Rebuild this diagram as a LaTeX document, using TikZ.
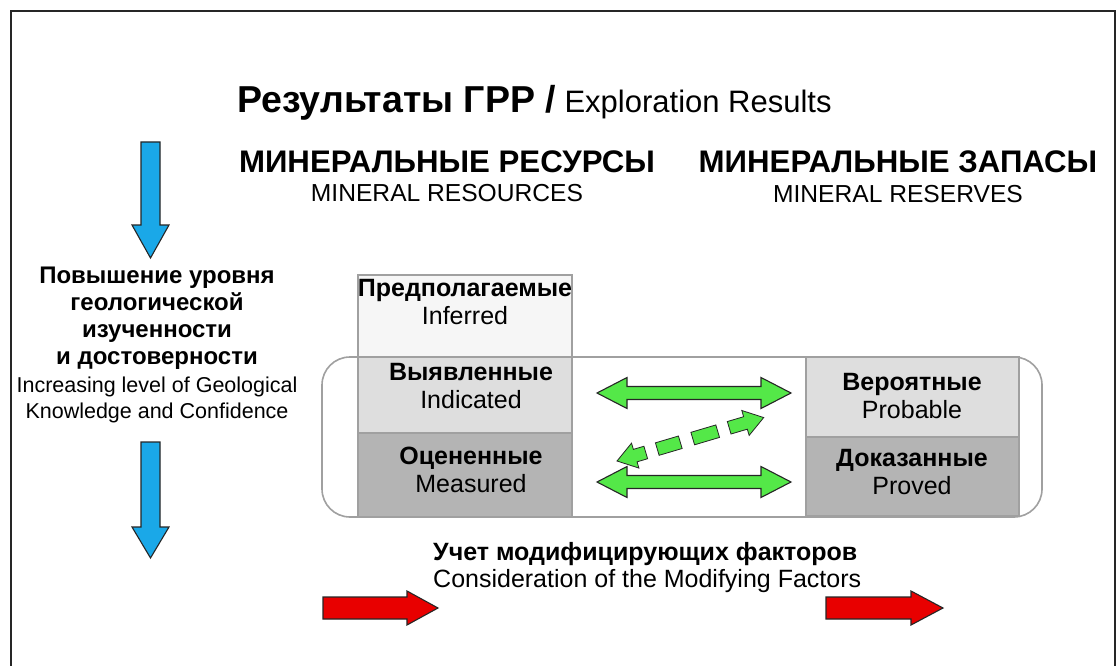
\documentclass[tikz,border=0pt]{standalone}
\usepackage{fontspec}
\setmainfont{Liberation Sans}
\definecolor{arrowblue}{RGB}{26,168,232}
\definecolor{arrowgreen}{RGB}{84,232,72}
\definecolor{arrowred}{RGB}{232,0,0}
\definecolor{boxline}{RGB}{160,160,160}
\definecolor{fillinf}{RGB}{246,246,246}
\definecolor{fillind}{RGB}{222,222,222}
\definecolor{fillmea}{RGB}{180,180,180}
\begin{document}
\begin{tikzpicture}[x=1pt,y=1pt,
  blockarrow/.style={draw=black!85, line width=1.1pt, line join=miter},
  catbox/.style={draw=boxline, line width=1.6pt, inner sep=0pt, outer sep=0pt},
  boxlabel/.style={align=center, inner sep=0pt, font=\fontsize{25}{27.5}\selectfont},
  headbig/.style={inner sep=0pt, font=\bfseries\fontsize{31.2}{34}\selectfont},
  headsmall/.style={inner sep=0pt, font=\fontsize{24.6}{28}\selectfont}
]
\useasboundingbox (0,0) rectangle (1119,-666);
\fill[white] (0,0) rectangle (1119,-666);
% outer frame
\draw[line width=2.2pt, black!85] (11,-680) -- (11,-11) -- (1115,-11) -- (1115,-680);

% title
\node[anchor=base west, inner sep=0pt] (title) at (237,-113)
  {{\bfseries\fontsize{37.5}{40}\selectfont Результаты ГРР /}{\fontsize{31}{32}\selectfont\ Exploration Results}};

% headings
\node[headbig] (res) at (447,-162) {МИНЕРАЛЬНЫЕ РЕСУРСЫ};
\node[headsmall] (resen) at (447,-193) {MINERAL RESOURCES};
\node[headbig] (zap) at (898,-162) {МИНЕРАЛЬНЫЕ ЗАПАСЫ};
\node[headsmall] (zapen) at (898,-194) {MINERAL RESERVES};

% left text
\node[align=center, inner sep=0pt, font=\bfseries\fontsize{24}{27}\selectfont] (leftru) at (157,-318)
  {Повышение уровня\\геологической\\изученности\\и достоверности};
\node[align=center, inner sep=0pt, font=\fontsize{21.5}{26}\selectfont] (leften) at (157,-400)
  {Increasing level of Geological\\Knowledge and Confidence};

% blue arrows
\draw[blockarrow, fill=arrowblue] (141,-142) -- (160,-142) -- (160,-225) -- (169,-225) -- (150.5,-258) -- (132,-225) -- (141,-225) -- cycle;
\draw[blockarrow, fill=arrowblue] (141,-442) -- (160,-442) -- (160,-527) -- (169,-527) -- (150.5,-558) -- (132,-527) -- (141,-527) -- cycle;

% rounded frame
\node[draw=boxline, line width=1.6pt, rounded corners=28pt, minimum width=720pt, minimum height=160pt, inner sep=0pt] (group) at (682,-437) {};

% category boxes
\node[catbox, fill=fillinf, minimum width=214pt, minimum height=82pt] (inf) at (465,-316) {};
\node[catbox, fill=fillind, minimum width=214pt, minimum height=76pt] (ind) at (465,-395) {};
\node[catbox, fill=fillmea, minimum width=214pt, minimum height=84pt] (mea) at (465,-475) {};
\node[catbox, fill=fillind, minimum width=213pt, minimum height=80pt] (prob) at (912.5,-397) {};
\node[catbox, fill=fillmea, minimum width=213pt, minimum height=79pt] (prov) at (912.5,-476.5) {};

\node[boxlabel] (infT) at (465,-302) {\textbf{Предполагаемые}\\Inferred};
\node[boxlabel] (indT) at (471,-386) {\textbf{Выявленные}\\Indicated};
\node[boxlabel] (meaT) at (471,-470) {\textbf{Оцененные}\\Measured};
\node[boxlabel] (probT) at (912,-396) {\textbf{Вероятные}\\Probable};
\node[boxlabel] (provT) at (912,-472) {\textbf{Доказанные}\\Proved};

% green double arrows
\draw[blockarrow, fill=arrowgreen] (597,-393) -- (627,-377.5) -- (627,-386.5) -- (761,-386.5) -- (761,-377.5) -- (791,-393) -- (761,-408.5) -- (761,-399.5) -- (627,-399.5) -- (627,-408.5) -- cycle;
\draw[blockarrow, fill=arrowgreen] (597,-482) -- (627,-466.5) -- (627,-475.5) -- (761,-475.5) -- (761,-466.5) -- (791,-482) -- (761,-497.5) -- (761,-488.5) -- (627,-488.5) -- (627,-497.5) -- cycle;

% dashed double arrow
\begin{scope}[shift={(617,-461)}, rotate=16.5]
  \draw[blockarrow, line width=0.8pt, fill=arrowgreen] (0,0) -- (19,13) -- (19,6.5) -- (30,6.5) -- (30,-6.5) -- (19,-6.5) -- (19,-13) -- cycle;
  \draw[blockarrow, line width=0.8pt, fill=arrowgreen] (42,6.5) rectangle (66,-6.5);
  \draw[blockarrow, line width=0.8pt, fill=arrowgreen] (79,6.5) rectangle (105,-6.5);
  \draw[blockarrow, line width=0.8pt, fill=arrowgreen] (153,0) -- (134,13) -- (134,6.5) -- (117,6.5) -- (117,-6.5) -- (134,-6.5) -- (134,-13) -- cycle;
\end{scope}

% bottom text
\node[anchor=west, inner sep=0pt, font=\bfseries\fontsize{25}{28}\selectfont] (modru) at (433,-554) {Учет модифицирующих факторов};
\node[anchor=west, inner sep=0pt, font=\fontsize{25}{28}\selectfont] (moden) at (433,-581) {Consideration of the Modifying Factors};

% red arrows
\draw[blockarrow, fill=arrowred] (323,-597) -- (407,-597) -- (407,-591) -- (438,-608) -- (407,-625) -- (407,-619) -- (323,-619) -- cycle;
\draw[blockarrow, fill=arrowred] (826,-597) -- (911,-597) -- (911,-591) -- (943,-608) -- (911,-625) -- (911,-619) -- (826,-619) -- cycle;
\end{tikzpicture}
\end{document}
